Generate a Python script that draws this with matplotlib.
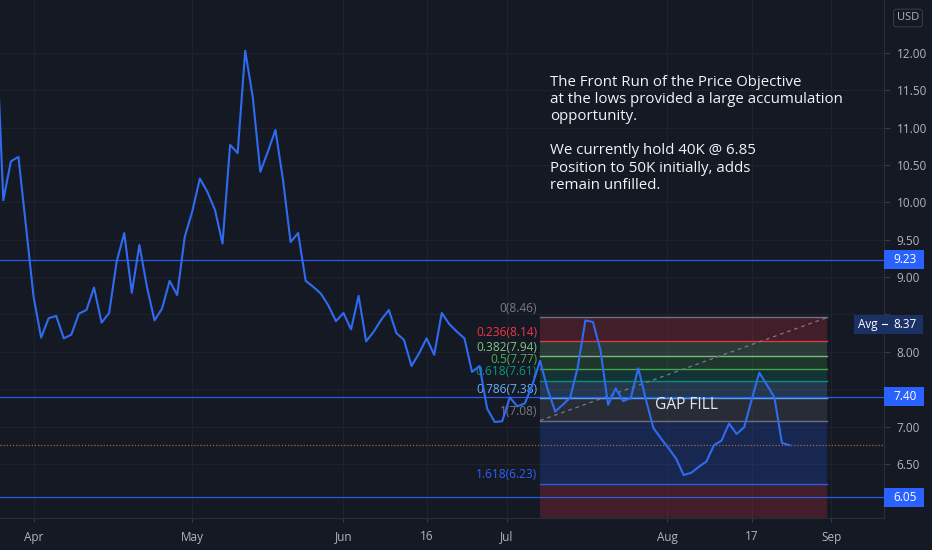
import matplotlib
matplotlib.use('Agg')
import matplotlib.pyplot as plt
import matplotlib.transforms as mtransforms
from matplotlib.patches import Rectangle


### Data

# daily closes (first one sits just off the left edge)
closes = [12.45, 10.03, 10.55, 10.61, 9.68, 8.74, 8.19, 8.45, 8.48, 8.18, 8.23,
          8.51, 8.56, 8.86, 8.39, 8.52, 9.21, 9.59, 8.79, 9.43, 8.87,
          8.42, 8.58, 8.95, 8.76, 9.54, 9.88, 10.32, 10.14, 9.90, 9.45,
          10.77, 10.66, 12.03, 11.41, 10.41, 10.68, 10.97, 10.30, 9.47, 9.59,
          8.95, 8.87, 8.78, 8.62, 8.41, 8.52, 8.30, 8.75, 8.14, 8.27,
          8.43, 8.56, 8.25, 8.16, 7.81, 7.98, 8.18, 7.96, 8.52, 8.37,
          8.27, 8.18, 7.73, 7.81, 7.24, 7.06, 7.07, 7.39, 7.27, 7.31,
          7.56, 7.88, 7.50, 7.20, 7.29, 7.39, 7.80, 8.42, 8.40, 8.02,
          7.29, 7.51, 7.34, 7.38, 7.78, 7.36, 6.98, 6.84, 6.71, 6.57,
          6.35, 6.38, 6.46, 6.53, 6.75, 6.81, 7.04, 6.90, 6.99, 7.36,
          7.72, 7.56, 7.39, 6.78, 6.75]
bars = list(range(len(closes)))

tick_pos = [5.0, 26.0, 46.0, 57.0, 67.6, 88.8, 100.0, 110.5]
tick_labels = ['Apr', 'May', 'Jun', '16', 'Jul', 'Aug', '17', 'Sep']

price_ticks = [6.5, 7.0, 7.5, 8.0, 8.5, 9.0, 9.5, 10.0, 10.5, 11.0, 11.5, 12.0]
# 7.50 and 8.50 sit under the price boxes on the scale
hidden_ticks = [7.5, 8.5]

h_levels = [9.23, 7.40, 6.05]
last_price = 6.75
avg_price = 8.37

fib_start, fib_end = 72, 110
fib_ratios = ['0', '0.236', '0.382', '0.5', '0.618', '0.786', '1', '1.618', '2.618']
fib_prices = [8.46, 8.14, 7.94, 7.77, 7.61, 7.38, 7.08, 6.23, 4.85]
fib_colors = ['#787b86', '#f23645', '#81c784', '#4caf50', '#089981',
              '#64b5f6', '#787b86', '#2962ff', '#f23645']

note = ("The Front Run of the Price Objective\n"
        "at the lows provided a large accumulation\n"
        "opportunity.\n"
        "\n"
        "We currently hold 40K @ 6.85\n"
        "Position to 50K initially, adds\n"
        "remain unfilled.")


### Plot

bg = '#151924'
grid_c = '#1e222d'
axis_txt = '#b2b5be'
blue = '#2962ff'

plt.rcParams['font.family'] = ['Open Sans', 'DejaVu Sans']

fig = plt.figure(figsize=(9.32, 5.5), dpi=100)
fig.patch.set_facecolor(bg)
ax = fig.add_axes([0, 32 / 550, 884 / 932, 518 / 550])
ax.set_facecolor(bg)

ax.set_xlim(0.563, 117.5)
ax.set_ylim(5.775, 12.71)

# grid
ax.set_yticks(price_ticks)
ax.set_yticklabels(['' if p in hidden_ticks else '%.2f' % p for p in price_ticks])
ax.set_xticks(tick_pos)
ax.set_xticklabels(tick_labels)
ax.grid(True, color=grid_c, linewidth=0.8)
ax.set_axisbelow(True)

ax.yaxis.tick_right()
ax.tick_params(axis='y', colors='#363a45', labelcolor=axis_txt, labelsize=8.5,
               length=4, pad=5)
ax.tick_params(axis='x', colors='#363a45', labelcolor=axis_txt, labelsize=8.5,
               length=3, pad=6)
for side in ['top', 'left']:
    ax.spines[side].set_visible(False)
for side in ['right', 'bottom']:
    ax.spines[side].set_color('#2a2e39')

# fib retracement
for i in range(1, len(fib_prices)):
    ax.fill_between([fib_start, fib_end], fib_prices[i], fib_prices[i - 1],
                    color=fib_colors[i], alpha=0.2, linewidth=0, zorder=1)
for i, (r, p, c) in enumerate(zip(fib_ratios, fib_prices, fib_colors)):
    ax.plot([fib_start, fib_end], [p, p], color=c, linewidth=1, alpha=0.9, zorder=1.5)
    if p > 5.8:
        ax.text(fib_start - 0.4, p + 0.035, '%s(%.2f)' % (r, p), color=c,
                fontsize=8.6, ha='right', va='bottom', zorder=3)
ax.plot([fib_start, fib_end], [fib_prices[6], fib_prices[0]], color='#787b86',
        linewidth=0.9, linestyle=(0, (3, 3)), zorder=1.6)

# horizontal levels
for lv in h_levels:
    ax.axhline(lv, color=blue, linewidth=0.9, alpha=0.9, zorder=2)
ax.axhline(last_price, color='#a0674e', linewidth=0.9, linestyle=(0, (1, 1.5)), zorder=2)

# price line
ax.plot(bars, closes, color='#2f6bf0', linewidth=1.5, zorder=4)

# texts
ax.text(87.2, 7.29, 'GAP FILL', color='#e6e7ea', fontsize=11.2, ha='left', va='center',
        zorder=5)
ax.text(73.3, 11.71, note, color='#f3f4f6', fontsize=10.8, ha='left', va='top',
        linespacing=1.2, zorder=5)

# right scale labels
trans = mtransforms.blended_transform_factory(ax.transAxes, ax.transData)
box_h = 19 / 74.7
for lv in h_levels:
    ax.add_patch(Rectangle((1.0, lv - box_h / 2), 40 / 884, box_h, transform=trans,
                           facecolor=blue, edgecolor='none', clip_on=False, zorder=6))
    ax.text(1.0 + 9 / 884, lv, '%.2f' % lv, transform=trans, color='white',
            fontsize=8.5, ha='left', va='center', clip_on=False, zorder=7)

ax.add_patch(Rectangle((854 / 884, avg_price - box_h / 2), 69 / 884, box_h,
                       transform=trans, facecolor='#1b3166', edgecolor='none',
                       clip_on=False, zorder=6))
ax.text(858 / 884, avg_price, 'Avg', transform=trans, color='white', fontsize=8.5,
        ha='left', va='center', clip_on=False, zorder=7)
ax.text(1.0 + 9 / 884, avg_price, '8.37', transform=trans, color='white', fontsize=8.5,
        ha='left', va='center', clip_on=False, zorder=7)
ax.plot([882 / 884, 887 / 884], [avg_price, avg_price], transform=trans,
        color='white', linewidth=0.8, clip_on=False, zorder=7)

fig.text(908 / 932, 1 - 18 / 550, 'USD', color=axis_txt, fontsize=8,
         ha='center', va='center',
         bbox=dict(boxstyle='round,pad=0.3,rounding_size=0.3', facecolor=bg,
                   edgecolor='#363a45', linewidth=0.8))

fig.savefig('out.png', dpi=100, facecolor=bg)
plt.close(fig)
